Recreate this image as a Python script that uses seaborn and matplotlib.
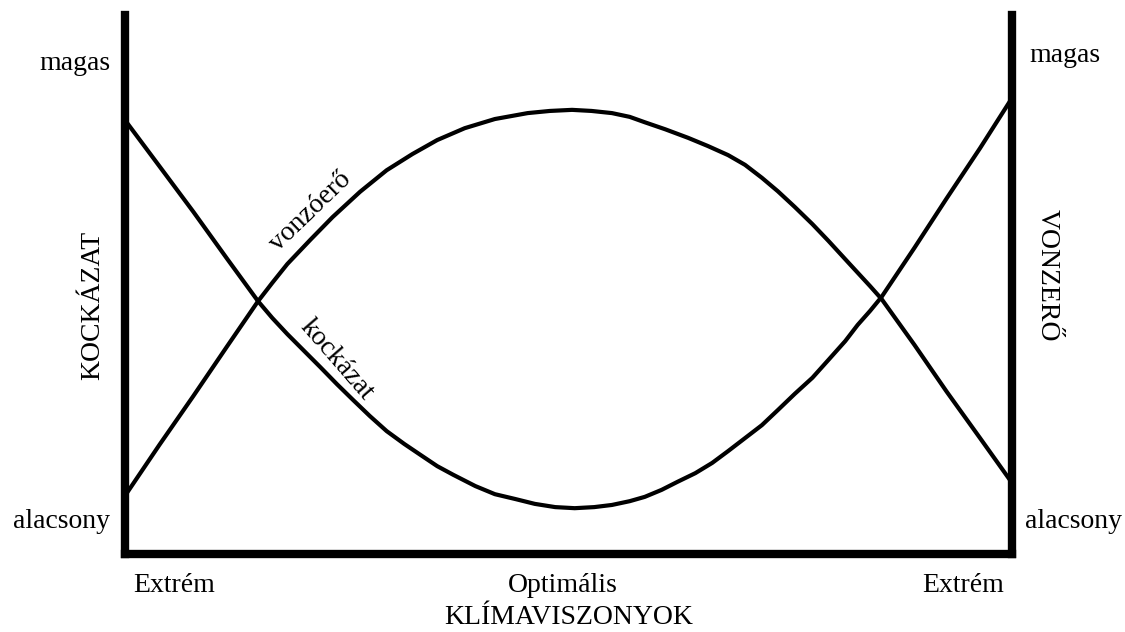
"""
Klímaviszonyok: kockázat és vonzóerő (sematikus ábra).
"""

import matplotlib
matplotlib.use("Agg")
import matplotlib.pyplot as plt
import pandas as pd
import seaborn as sns

# kockázat curve (x: 0 = Extrém ... 100 = Extrém, y: 0 = alacsony)
kockazat_x = [0, 3.9, 7.7, 11.5, 15.0, 16.6, 18.3, 20.3, 22.0, 23.9, 25.7, 27.6,
              29.5, 31.5, 33.3, 35.2, 37.0, 39.5, 41.7, 44.0, 46.2, 48.5, 50.7,
              52.9, 54.9, 56.9, 58.6, 60.5, 62.3, 64.3, 66.2, 68.0, 69.9, 71.8,
              73.6, 75.5, 77.5, 79.3, 81.2, 82.6, 84.0, 85.3, 89.0, 92.6, 96.4, 100]
kockazat_y = [80.5, 71.9, 63.5, 54.8, 46.9, 43.8, 40.8, 37.5, 34.7, 31.5, 28.6, 25.6,
              22.8, 20.4, 18.4, 16.3, 14.7, 12.6, 11.1, 10.2, 9.3, 8.7, 8.5,
              8.7, 9.1, 9.8, 10.6, 11.9, 13.4, 15.0, 16.9, 19.1, 21.5, 23.9,
              26.7, 29.7, 32.7, 36.0, 39.5, 42.5, 45.1, 47.7, 56.8, 65.9, 75.3, 84.6]

# vonzóerő curve
vonzoero_x = [0, 3.9, 7.7, 11.5, 15.0, 16.6, 18.3, 20.9, 23.4, 26.5, 29.5, 32.4,
              35.2, 38.3, 41.7, 45.4, 47.9, 50.4, 52.6, 54.9, 56.9, 58.6, 60.9,
              63.5, 65.7, 68.0, 69.9, 71.8, 73.6, 75.5, 77.5, 79.3, 81.7, 84.0,
              85.3, 89.0, 92.6, 96.4, 100]
vonzoero_y = [10.8, 20.3, 29.3, 38.5, 46.9, 50.3, 53.8, 58.3, 62.5, 67.2, 71.2, 74.2,
              76.8, 79.0, 80.7, 81.8, 82.2, 82.4, 82.2, 81.8, 81.1, 80.1, 78.8,
              77.2, 75.7, 74.0, 72.2, 69.8, 67.3, 64.4, 61.2, 58.1, 53.8, 49.7,
              47.3, 38.8, 30.2, 21.5, 13.2]

x_labels = ["Extrém", "Optimális", "Extrém"]
level_labels = ["magas", "alacsony"]

W, H = 1125, 632
FS = 20


def px(x, y):
    """pixel position (from top-left) -> figure fraction"""
    return x / W, 1 - y / H


sns.set_style("white")
plt.rcParams["font.family"] = ["Liberation Serif", "DejaVu Serif"]
plt.rcParams["text.color"] = "black"

df = pd.concat([
    pd.DataFrame({"x": kockazat_x, "y": kockazat_y, "görbe": "kockázat"}),
    pd.DataFrame({"x": vonzoero_x, "y": vonzoero_y, "görbe": "vonzóerő"}),
])

fig = plt.figure(figsize=(W / 100, H / 100), dpi=100)
ax = fig.add_axes([125 / W, 1 - 554 / H, (1012 - 125) / W, (554 - 15) / H])

sns.lineplot(data=df, x="x", y="y", hue="görbe", palette=["black", "black"],
             linewidth=3.0, sort=False, estimator=None, legend=False, ax=ax)

ax.set_xlim(0, 100)
ax.set_ylim(0, 100)
ax.set_xticks([])
ax.set_yticks([])
ax.set_xlabel("")
ax.set_ylabel("")
ax.spines["top"].set_visible(False)
for side in ("left", "right", "bottom"):
    ax.spines[side].set_visible(True)
    ax.spines[side].set_color("black")
    ax.spines[side].set_linewidth(6)
ax.spines["bottom"].set_capstyle("projecting")

# level labels on both sides
fig.text(*px(110, 63), level_labels[0], ha="right", va="center", fontsize=FS)
fig.text(*px(110, 522), level_labels[1], ha="right", va="center", fontsize=FS)
fig.text(*px(1029, 55), level_labels[0], ha="left", va="center", fontsize=FS)
fig.text(*px(1025, 522), level_labels[1], ha="left", va="center", fontsize=FS)

# x categories
fig.text(*px(133, 586), x_labels[0], ha="left", va="center", fontsize=FS)
fig.text(*px(563, 586), x_labels[1], ha="center", va="center", fontsize=FS)
fig.text(*px(1004, 586), x_labels[2], ha="right", va="center", fontsize=FS)
fig.text(*px(569, 618), "KLÍMAVISZONYOK", ha="center", va="center", fontsize=FS)

# axis titles
fig.text(*px(93, 305), "KOCKÁZAT", ha="center", va="center", rotation=90,
         fontsize=FS)
fig.text(*px(1047, 275), "VONZERŐ", ha="center", va="center", rotation=-90,
         fontsize=FS)

# curve labels
fig.text(*px(310, 212), "vonzóerő", ha="center", va="center", rotation=44,
         rotation_mode="anchor", fontsize=FS)
fig.text(*px(337, 360), "kockázat", ha="center", va="center", rotation=-49,
         rotation_mode="anchor", fontsize=FS)

fig.savefig("out.png", dpi=100)
plt.close(fig)
